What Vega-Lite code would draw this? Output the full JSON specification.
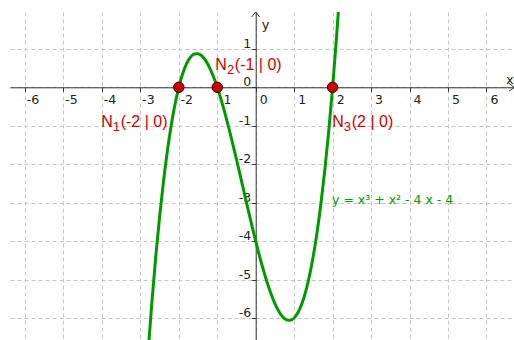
{
  "$schema": "https://vega.github.io/schema/vega-lite/v6.json",
  "width": 504,
  "height": 328,
  "autosize": {"type": "none"},
  "padding": {"left": 10, "top": 12, "right": 0, "bottom": 0},
  "background": "white",
  "config": {"view": {"stroke": null}},
  "datasets": {
    "curve": [
      {"x": -2.8, "y": -6.912}, {"x": -2.7, "y": -5.593}, {"x": -2.6, "y": -4.416}, {"x": -2.5, "y": -3.375},
      {"x": -2.4, "y": -2.464}, {"x": -2.3, "y": -1.677}, {"x": -2.2, "y": -1.008}, {"x": -2.1, "y": -0.451},
      {"x": -2.0, "y": 0}, {"x": -1.9, "y": 0.351}, {"x": -1.8, "y": 0.608}, {"x": -1.7, "y": 0.777},
      {"x": -1.6, "y": 0.864}, {"x": -1.5, "y": 0.875}, {"x": -1.4, "y": 0.816}, {"x": -1.3, "y": 0.693},
      {"x": -1.2, "y": 0.512}, {"x": -1.1, "y": 0.279}, {"x": -1.0, "y": 0}, {"x": -0.9, "y": -0.319},
      {"x": -0.8, "y": -0.672}, {"x": -0.7, "y": -1.053}, {"x": -0.6, "y": -1.456}, {"x": -0.5, "y": -1.875},
      {"x": -0.4, "y": -2.304}, {"x": -0.3, "y": -2.737}, {"x": -0.2, "y": -3.168}, {"x": -0.1, "y": -3.591},
      {"x": 0.0, "y": -4}, {"x": 0.1, "y": -4.389}, {"x": 0.2, "y": -4.752}, {"x": 0.3, "y": -5.083},
      {"x": 0.4, "y": -5.376}, {"x": 0.5, "y": -5.625}, {"x": 0.6, "y": -5.824}, {"x": 0.7, "y": -5.967},
      {"x": 0.8, "y": -6.048}, {"x": 0.9, "y": -6.061}, {"x": 1.0, "y": -6}, {"x": 1.1, "y": -5.859},
      {"x": 1.2, "y": -5.632}, {"x": 1.3, "y": -5.313}, {"x": 1.4, "y": -4.896}, {"x": 1.5, "y": -4.375},
      {"x": 1.6, "y": -3.744}, {"x": 1.7, "y": -2.997}, {"x": 1.8, "y": -2.128}, {"x": 1.9, "y": -1.131},
      {"x": 2.0, "y": 0}, {"x": 2.1, "y": 1.271}, {"x": 2.2, "y": 2.688}
    ],
    "roots": [{"x": -2, "y": 0}, {"x": -1, "y": 0}, {"x": 2, "y": 0}],
    "labels": [
      {"x": -4.02, "y": -1.03, "n": "N", "s": "1", "c": "(-2 | 0)"},
      {"x": -1.05, "y": 0.46, "n": "N", "s": "2", "c": "(-1 | 0)"},
      {"x": 1.99, "y": -1.03, "n": "N", "s": "3", "c": "(2 | 0)"}
    ],
    "eq": [{"x": 1.985, "y": -3.03, "t": "y = x³ + x² - 4 x - 4"}],
    "names": [{"x": 0.16, "y": 1.52, "t": "y"}, {"x": 6.51, "y": 0.09, "t": "x"}],
    "yarrow": [{"x": 0, "y": 1.958}],
    "xarrow": [{"x": 6.7178, "y": 0}]
  },
  "layer": [
    {
      "data": {"name": "curve"},
      "mark": {"type": "line", "color": "#009900", "strokeWidth": 3, "clip": true, "interpolate": "monotone"},
      "encoding": {
        "x": {
          "field": "x", "type": "quantitative", "title": null,
          "scale": {"domain": [-6.3901, 6.7178], "nice": false, "zero": false},
          "axis": {
            "orient": "bottom", "offset": -252.7,
            "values": [-6, -5, -4, -3, -2, -1, 0, 1, 2, 3, 4, 5, 6],
            "labelExpr": "'' + datum.value",
            "grid": true, "gridColor": "#c4c4c4", "gridDash": [4, 3], "gridWidth": 1,
            "domainColor": "#333333", "domainWidth": 1,
            "tickColor": "#333333", "tickSize": 4,
            "labelAlign": "center", "labelOffset": 7.5, "labelBaseline": "top", "labelPadding": 2.5,
            "labelFont": "DejaVu Sans", "labelFontSize": 12.5, "labelColor": "#222222",
            "labelFlush": false, "labelOverlap": false
          }
        },
        "y": {
          "field": "y", "type": "quantitative", "title": null,
          "scale": {"domain": [-6.5722, 1.9584], "nice": false, "zero": false},
          "axis": {
            "orient": "left", "offset": -245.7,
            "values": [-6, -5, -4, -3, -2, -1, 0, 1],
            "labelExpr": "'' + datum.value",
            "grid": true, "gridColor": "#c4c4c4", "gridDash": [4, 3], "gridWidth": 1,
            "domainColor": "#333333", "domainWidth": 1,
            "tickColor": "#333333", "tickSize": 4,
            "labelAlign": "right", "labelBaseline": "alphabetic", "labelOffset": -1.5, "labelPadding": 1,
            "labelFont": "DejaVu Sans", "labelFontSize": 12.5, "labelColor": "#222222",
            "labelFlush": false, "labelOverlap": false
          }
        }
      }
    },
    {
      "data": {"name": "roots"},
      "mark": {"type": "point", "filled": true, "fill": "#cc0000", "stroke": "#330000", "strokeWidth": 1, "size": 110, "opacity": 1},
      "encoding": {
        "x": {"field": "x", "type": "quantitative", "title": null},
        "y": {"field": "y", "type": "quantitative", "title": null}
      }
    },
    {
      "data": {"name": "labels"},
      "mark": {"type": "text", "font": "Liberation Sans", "fontSize": 16, "color": "#cc0000", "align": "left", "baseline": "alphabetic"},
      "encoding": {
        "x": {"field": "x", "type": "quantitative", "title": null},
        "y": {"field": "y", "type": "quantitative", "title": null},
        "text": {"field": "n"}
      }
    },
    {
      "data": {"name": "labels"},
      "mark": {"type": "text", "font": "Liberation Sans", "fontSize": 13, "color": "#cc0000", "align": "left", "baseline": "alphabetic", "dx": 11.6, "dy": 4.5},
      "encoding": {
        "x": {"field": "x", "type": "quantitative", "title": null},
        "y": {"field": "y", "type": "quantitative", "title": null},
        "text": {"field": "s"}
      }
    },
    {
      "data": {"name": "labels"},
      "mark": {"type": "text", "font": "Liberation Sans", "fontSize": 16, "color": "#cc0000", "align": "left", "baseline": "alphabetic", "dx": 19.5},
      "encoding": {
        "x": {"field": "x", "type": "quantitative", "title": null},
        "y": {"field": "y", "type": "quantitative", "title": null},
        "text": {"field": "c"}
      }
    },
    {
      "data": {"name": "eq"},
      "mark": {"type": "text", "font": "DejaVu Sans", "fontSize": 12.5, "color": "#009900", "align": "left", "baseline": "alphabetic"},
      "encoding": {
        "x": {"field": "x", "type": "quantitative", "title": null},
        "y": {"field": "y", "type": "quantitative", "title": null},
        "text": {"field": "t"}
      }
    },
    {
      "data": {"name": "names"},
      "mark": {"type": "text", "font": "DejaVu Sans", "fontSize": 13, "color": "#222222", "align": "left", "baseline": "alphabetic"},
      "encoding": {
        "x": {"field": "x", "type": "quantitative", "title": null},
        "y": {"field": "y", "type": "quantitative", "title": null},
        "text": {"field": "t"}
      }
    },
    {
      "data": {"name": "yarrow"},
      "mark": {"type": "point", "shape": "M-1,1.25L0,0L1,1.25", "filled": false, "stroke": "#333333", "strokeWidth": 1, "size": 64, "opacity": 1},
      "encoding": {
        "x": {"field": "x", "type": "quantitative", "title": null},
        "y": {"field": "y", "type": "quantitative", "title": null}
      }
    },
    {
      "data": {"name": "xarrow"},
      "mark": {"type": "point", "shape": "M-1.25,-1L0,0L-1.25,1", "filled": false, "stroke": "#333333", "strokeWidth": 1, "size": 64, "opacity": 1},
      "encoding": {
        "x": {"field": "x", "type": "quantitative", "title": null},
        "y": {"field": "y", "type": "quantitative", "title": null}
      }
    }
  ]
}
